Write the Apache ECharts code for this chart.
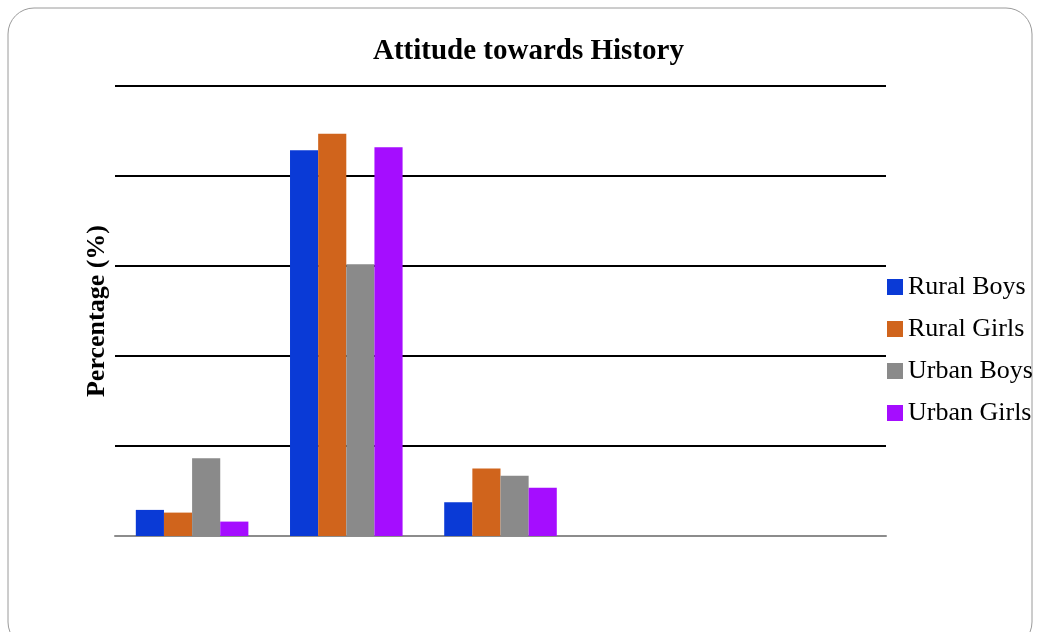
<!DOCTYPE html>
<html>
<head>
<meta charset="utf-8">
<script src="https://cdn.jsdelivr.net/npm/echarts@6/dist/echarts.min.js"></script>
<style>
  html, body { margin: 0; padding: 0; background: #fff; }
  #main { width: 1040px; height: 632px; }
</style>
</head>
<body>
<div id="main"></div>
<script>
// categories (x labels are not shown in the original)
var categories = ['1', '2', '3', '4', '5'];
var seriesNames = ['Rural Boys', 'Rural Girls', 'Urban Boys', 'Urban Girls'];
var ruralBoys  = [5.8, 85.7, 7.5, null, null];
var ruralGirls = [5.2, 89.4, 15.0, null, null];
var urbanBoys  = [17.3, 60.4, 13.4, null, null];
var urbanGirls = [3.2, 86.4, 10.7, null, null];
var colors = ['#0a3ad6', '#d0641c', '#8a8a8a', '#a50dff'];

var font = 'Liberation Serif';

function bar(name, data, color) {
	return {
		name: name,
		type: 'bar',
		data: data,
		barGap: '0%',
		barCategoryGap: '27%',
		itemStyle: { color: color }
	};
}

var option = {
	animation: false,
	textStyle: { fontFamily: font },
	title: {
		text: 'Attitude towards History',
		left: 368,
		top: 32,
		textStyle: { fontFamily: font, fontSize: 29, fontWeight: 'bold', color: '#000' }
	},
	legend: {
		orient: 'vertical',
		left: 882,
		top: 269,
		itemWidth: 16,
		itemHeight: 16,
		itemGap: 16,
		icon: 'rect',
		textStyle: { fontFamily: font, fontSize: 26, color: '#000' },
		data: seriesNames
	},
	grid: { left: 115, right: 154, top: 86, bottom: 96 },
	xAxis: {
		type: 'category',
		data: categories,
		axisLine: { lineStyle: { color: '#8c8c8c', width: 2 } },
		axisTick: { show: false },
		axisLabel: { show: false }
	},
	yAxis: {
		type: 'value',
		min: 0,
		max: 100,
		interval: 20,
		name: 'Percentage (%)',
		nameLocation: 'middle',
		nameGap: 5,
		nameTextStyle: { fontFamily: font, fontSize: 26, fontWeight: 'bold', color: '#000' },
		axisLine: { show: false },
		axisTick: { show: false },
		axisLabel: { show: false },
		splitLine: { lineStyle: { color: '#000', width: 2 } }
	},
	graphic: [{
		type: 'rect',
		z: -1,
		shape: { x: 8, y: 8, width: 1024, height: 640, r: 26 },
		style: { fill: 'none', stroke: '#9a9a9a', lineWidth: 1 }
	}],
	series: [
		bar(seriesNames[0], ruralBoys, colors[0]),
		bar(seriesNames[1], ruralGirls, colors[1]),
		bar(seriesNames[2], urbanBoys, colors[2]),
		bar(seriesNames[3], urbanGirls, colors[3])
	]
};

var myChart = echarts.init(document.getElementById('main'));
myChart.setOption(option);
</script>
</body>
</html>
